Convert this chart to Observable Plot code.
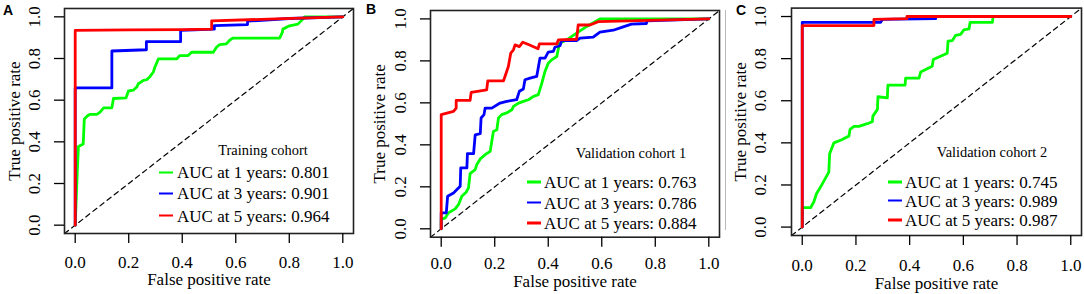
<!DOCTYPE html>
<html><head><meta charset="utf-8">
<script src="https://cdn.jsdelivr.net/npm/d3@7"></script>
<script src="https://cdn.jsdelivr.net/npm/@observablehq/plot@0.6"></script>
<style>
body{margin:0;background:#fff;}
#fig{position:relative;width:1084px;height:294px;overflow:hidden;font-family:"Liberation Serif","Times New Roman",serif;color:#000;}
.panel{position:absolute;top:0;}
.letter{position:absolute;font-family:"Liberation Sans",Arial,sans-serif;font-weight:bold;font-size:14px;line-height:14px;}
.leg-title{position:absolute;font-size:14.4px;line-height:1;white-space:nowrap;transform:translate(-50%,-50%);}
.leg-row{position:absolute;white-space:nowrap;font-size:17px;line-height:1;transform:translateY(-50%);display:flex;align-items:center;}
.sw{display:inline-block;width:14px;height:2.6px;}
.sep{position:absolute;left:725px;top:10px;width:1px;height:220px;background:#b8b8b8;}
</style></head><body><div id="fig"></div>
<script>
// ---- data ----
const years = [1, 3, 5];
const colors = ["#00ff00", "#0000ff", "#ff0000"];
const tickValues = [0, 0.2, 0.4, 0.6, 0.8, 1.0];
const chanceLine = [-0.04, 1.04];

const aucTraining = [0.801, 0.901, 0.964];
const aucValidation1 = [0.763, 0.786, 0.884];
const aucValidation2 = [0.745, 0.989, 0.987];

// Training cohort ROC points [FPR, TPR]
const trainingY1 = [[0,0],[0.008,0.267],[0.012,0.378],[0.03,0.39],[0.034,0.51],[0.046,0.525],[0.056,0.532],[0.081,0.532],[0.093,0.543],[0.106,0.563],[0.137,0.563],[0.143,0.608],[0.19,0.611],[0.199,0.644],[0.217,0.648],[0.23,0.663],[0.236,0.679],[0.255,0.695],[0.267,0.698],[0.28,0.714],[0.292,0.735],[0.298,0.759],[0.311,0.798],[0.379,0.798],[0.391,0.814],[0.422,0.814],[0.435,0.83],[0.516,0.83],[0.528,0.854],[0.54,0.867],[0.565,0.87],[0.578,0.889],[0.59,0.898],[0.764,0.898],[0.774,0.925],[0.776,0.941],[0.801,0.957],[0.832,0.965],[0.851,0.989],[0.857,1],[1,1]];
const trainingY3 = [[0,0],[0,0.659],[0.137,0.659],[0.137,0.836],[0.266,0.842],[0.266,0.881],[0.394,0.881],[0.394,0.935],[0.52,0.941],[0.52,0.958],[0.644,0.963],[0.644,0.979],[0.8,0.992],[1,1]];
const trainingY5 = [[0,0],[0,0.935],[0.2,0.937],[0.4,0.939],[0.51,0.941],[0.51,0.981],[0.75,0.99],[1,1]];

// Validation cohort 1
const validation1Y1 = [[0,0],[0,0.044],[0.015,0.052],[0.027,0.076],[0.052,0.095],[0.065,0.116],[0.077,0.155],[0.093,0.174],[0.102,0.195],[0.108,0.263],[0.127,0.282],[0.133,0.306],[0.146,0.333],[0.164,0.353],[0.183,0.369],[0.195,0.464],[0.208,0.472],[0.214,0.528],[0.226,0.544],[0.245,0.552],[0.264,0.567],[0.27,0.583],[0.289,0.599],[0.307,0.607],[0.326,0.615],[0.345,0.631],[0.363,0.639],[0.376,0.694],[0.388,0.75],[0.4,0.789],[0.413,0.805],[0.432,0.821],[0.442,0.884],[0.469,0.9],[0.506,0.932],[0.544,0.964],[0.575,0.987],[0.593,1],[1,1]];
const validation1Y3 = [[0,0],[0,0.076],[0.019,0.076],[0.024,0.155],[0.046,0.171],[0.071,0.203],[0.073,0.29],[0.096,0.29],[0.098,0.358],[0.121,0.358],[0.127,0.448],[0.146,0.453],[0.149,0.528],[0.16,0.544],[0.164,0.575],[0.189,0.575],[0.22,0.599],[0.245,0.607],[0.282,0.615],[0.292,0.655],[0.307,0.666],[0.313,0.71],[0.332,0.718],[0.357,0.726],[0.369,0.813],[0.388,0.813],[0.4,0.842],[0.419,0.845],[0.425,0.865],[0.444,0.872],[0.45,0.897],[0.506,0.897],[0.519,0.908],[0.568,0.913],[0.593,0.937],[0.618,0.942],[0.643,0.946],[0.68,0.962],[0.711,0.975],[0.767,0.978],[0.769,0.991],[1,1]];
const validation1Y5 = [[0,0],[0,0.544],[0.046,0.559],[0.056,0.575],[0.056,0.612],[0.108,0.612],[0.112,0.65],[0.17,0.662],[0.174,0.705],[0.233,0.705],[0.251,0.773],[0.26,0.837],[0.27,0.853],[0.276,0.876],[0.292,0.868],[0.305,0.889],[0.326,0.878],[0.362,0.858],[0.367,0.881],[0.432,0.881],[0.438,0.9],[0.506,0.903],[0.512,0.971],[0.556,0.971],[0.587,0.987],[1,1]];

// Validation cohort 2
const validation2Y1 = [[0,0],[0,0.092],[0.031,0.092],[0.043,0.119],[0.053,0.158],[0.068,0.19],[0.099,0.261],[0.102,0.348],[0.118,0.4],[0.149,0.416],[0.161,0.424],[0.174,0.432],[0.178,0.464],[0.193,0.478],[0.211,0.478],[0.242,0.491],[0.261,0.5],[0.263,0.527],[0.28,0.559],[0.282,0.619],[0.317,0.614],[0.319,0.674],[0.383,0.674],[0.385,0.707],[0.435,0.707],[0.441,0.736],[0.484,0.764],[0.488,0.796],[0.54,0.826],[0.543,0.883],[0.559,0.886],[0.571,0.91],[0.59,0.915],[0.602,0.937],[0.621,0.941],[0.625,0.972],[0.708,0.972],[0.711,1],[1,1]];
const validation2Y3 = [[0,0],[0,0.972],[0.292,0.972],[0.298,0.986],[0.497,0.99],[0.497,1],[1,1]];
const validation2Y5 = [[0,0],[0,0.957],[0.267,0.957],[0.267,0.986],[0.39,0.99],[0.39,1],[1,1]];

// ---- layout ----
const panels = [
  {letter:"A", cohort:"Training cohort", curves:[trainingY1, trainingY3, trainingY5], auc:aucTraining,
   left:0, width:360, ml:64, mr:7, mt:8, mb:61, xpad:12, xlo:51, ypad:15, ylo:57,
   letterX:3, letterY:2.5, titleX:263, titleY:150, rowsY:[172.3,193.3,215.7], swX:159, textX:177},
  {letter:"B", cohort:"Validation cohort 1", curves:[validation1Y1, validation1Y3, validation1Y5], auc:aucValidation1,
   left:362, width:360, ml:68, mr:3, mt:10, mb:57.3, xpad:9.8, xlo:50, ypad:15, ylo:58,
   letterX:366, letterY:2.2, titleX:631, titleY:153, rowsY:[182,202.5,223], swX:527, textX:544},
  {letter:"C", cohort:"Validation cohort 2", curves:[validation2Y1, validation2Y3, validation2Y5], auc:aucValidation2,
   left:724, width:360, ml:67, mr:3, mt:7.6, mb:59, xpad:13.5, xlo:53, ypad:15.3, ylo:58,
   letterX:736, letterY:3.2, titleX:992, titleY:152, rowsY:[182,200.5,220], swX:888, textX:905}
];

const fig = document.getElementById("fig");
const fmt = d3.format(".1f");
const serif = '"Liberation Serif","Times New Roman",serif';
const sep = document.createElement("div"); sep.className = "sep"; fig.appendChild(sep);

for (const p of panels) {
  const series = years.flatMap((yr, i) => p.curves[i].map(([fpr, tpr]) => ({fpr, tpr, year: yr})));
  const chart = Plot.plot({
    width: p.width, height: 294,
    marginLeft: p.ml, marginRight: p.mr, marginTop: p.mt, marginBottom: p.mb,
    x: {domain: [-0.04, 1.04]},
    y: {domain: [-0.04, 1.04]},
    color: {type: "ordinal", domain: years, range: colors},
    style: {fontFamily: serif, fontSize: "17px", color: "#000", background: "transparent", overflow: "visible"},
    marks: [
      Plot.line(chanceLine, {x: d => d, y: d => d, stroke: "#000", strokeWidth: 1.2, strokeDasharray: "5,4"}),
      Plot.line(series, {x: "fpr", y: "tpr", z: "year", stroke: "year", strokeWidth: 2.8}),
      Plot.frame({stroke: "#222", strokeWidth: 1.6}),
      Plot.axisX({ticks: tickValues, tickFormat: fmt, tickSize: 10, tickPadding: p.xpad, strokeWidth: 1.3,
        fontSize: 17, fontFamily: serif, fontVariant: "normal",
        label: "False positive rate", labelAnchor: "center", labelOffset: p.xlo, labelArrow: "none"}),
      Plot.axisY({ticks: tickValues, tickFormat: fmt, tickSize: 10, tickPadding: p.ypad, tickRotate: -90, strokeWidth: 1.3,
        fontSize: 17, fontFamily: serif, fontVariant: "normal",
        label: "True positive rate", labelAnchor: "center", labelOffset: p.ylo, labelArrow: "none"})
    ]
  });
  chart.classList.add("panel");
  chart.style.left = p.left + "px";
  fig.appendChild(chart);

  const L = document.createElement("div");
  L.className = "letter"; L.textContent = p.letter;
  L.style.left = p.letterX + "px"; L.style.top = p.letterY + "px";
  fig.appendChild(L);

  const t = document.createElement("div");
  t.className = "leg-title"; t.textContent = p.cohort;
  t.style.left = p.titleX + "px"; t.style.top = p.titleY + "px";
  fig.appendChild(t);

  years.forEach((yr, i) => {
    const r = document.createElement("div");
    r.className = "leg-row";
    r.style.left = p.swX + "px"; r.style.top = p.rowsY[i] + "px";
    const sw = document.createElement("span");
    sw.className = "sw"; sw.style.background = colors[i];
    sw.style.marginRight = (p.textX - p.swX - 14) + "px";
    const tx = document.createElement("span");
    tx.textContent = `AUC at ${yr} years: ${d3.format(".3f")(p.auc[i])}`;
    r.appendChild(sw); r.appendChild(tx);
    fig.appendChild(r);
  });
}
</script></body></html>
